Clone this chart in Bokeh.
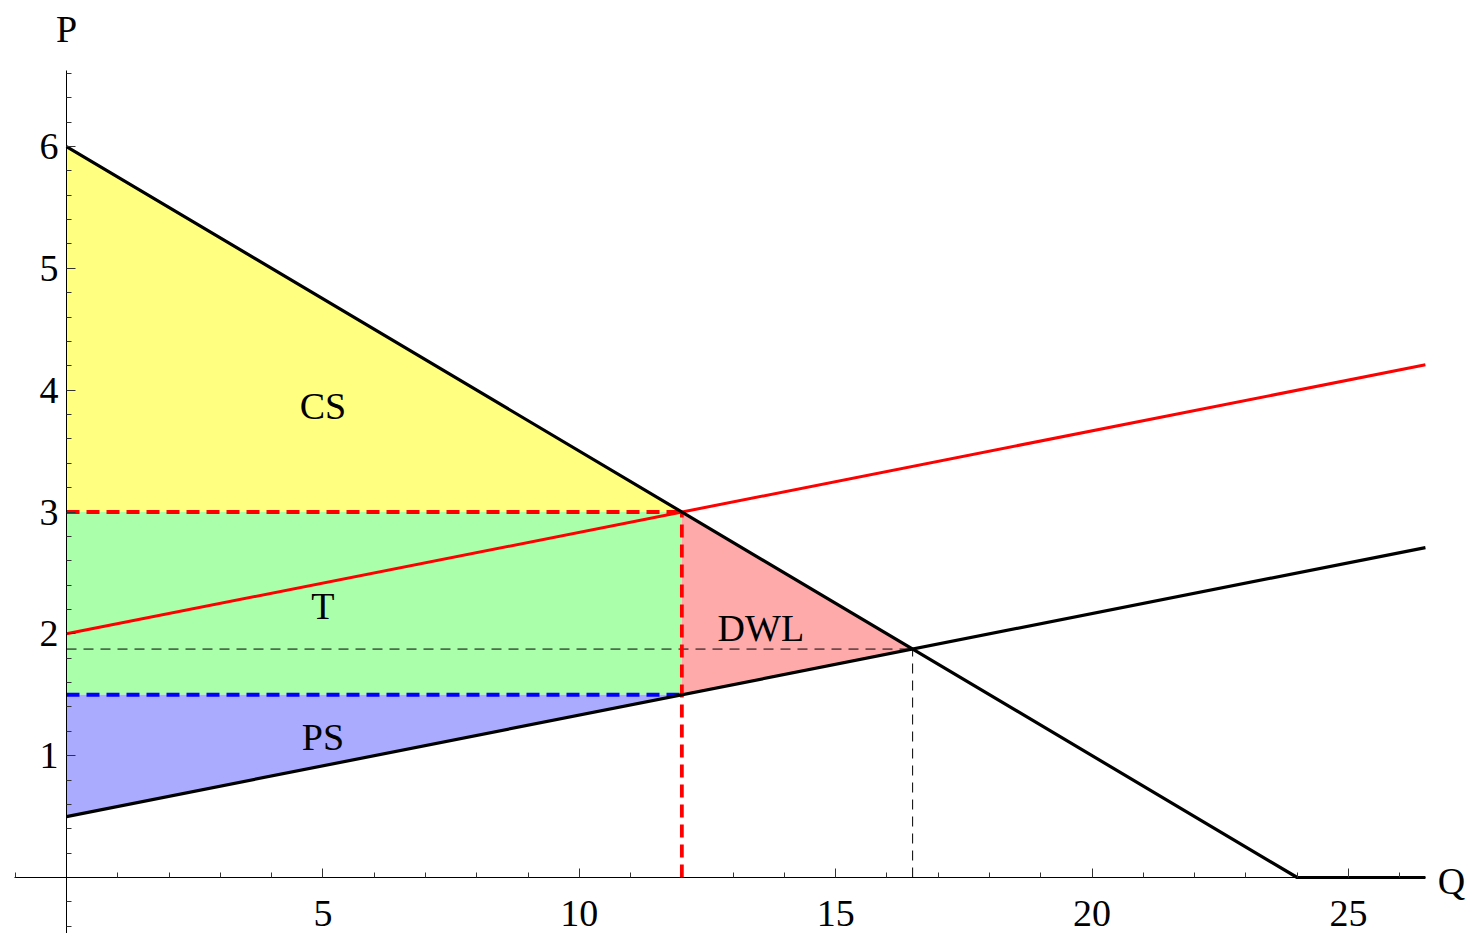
from bokeh.plotting import figure
from bokeh.models import Range1d, FixedTicker, LinearAxis
from bokeh.core.properties import value
from bokeh.embed import file_html
from bokeh.resources import INLINE

# ---- data ----
demand_q = [0, 24, 26.5]
demand_p = [6, 0, 0]
supply_q = [0, 26.5]
supply_p = [0.5, 2.708]
tax_supply_q = [0, 26.5]
tax_supply_p = [2, 4.208]
q_tax = 12
p_buyer = 3
p_seller = 1.5
q_eq = 16.5
p_eq = 1.875
p_demand_max = 6
p_supply_min = 0.5

area_labels = ["CS", "T", "PS", "DWL"]
area_label_q = [5, 5, 5, 13.54]
area_label_p = [3.87, 2.23, 1.15, 2.05]

x_major = [5, 10, 15, 20, 25]
x_minor = [-1] + [i for i in range(1, 27) if i % 5 != 0]
y_major = [1, 2, 3, 4, 5, 6]
y_minor = [round(-0.4 + 0.2 * i, 1) for i in range(36)
           if abs((-0.4 + 0.2 * i) - round(-0.4 + 0.2 * i)) > 1e-6]

FONT = "Liberation Serif"

W, H = 1466, 933
p = figure(width=W, height=H, output_backend="svg", toolbar_location=None,
           x_range=Range1d(-66 / 51.28, (W - 66) / 51.28),
           y_range=Range1d((877 - H) / 121.83, 877 / 121.83),
           min_border=0, x_axis_type=None, y_axis_type=None)
p.outline_line_color = None
p.background_fill_color = "white"
p.border_fill_color = "white"

xa = LinearAxis(fixed_location=0, bounds=(-1.02, 26.5),
                ticker=FixedTicker(ticks=x_major, minor_ticks=x_minor))
ya = LinearAxis(fixed_location=0, bounds=(-0.46, 6.62),
                ticker=FixedTicker(ticks=y_major, minor_ticks=y_minor))
for ax in (xa, ya):
    ax.axis_line_color = "black"
    ax.axis_line_width = 1
    ax.major_tick_in = 9
    ax.major_tick_out = 0
    ax.minor_tick_in = 5
    ax.minor_tick_out = 0
    ax.major_tick_line_color = "#333333"
    ax.minor_tick_line_color = "#333333"
    ax.major_label_text_font = FONT
    ax.major_label_text_font_size = "38px"
    ax.major_label_text_color = "black"
xa.major_label_standoff = 23
ya.major_label_standoff = 8
p.add_layout(xa, "below")
p.add_layout(ya, "left")

# ---- filled areas ----
p.patch([0, q_tax, 0], [p_demand_max, p_buyer, p_buyer], fill_color="#FFFF80", line_color=None)
p.patch([0, q_tax, q_tax, 0], [p_buyer, p_buyer, p_seller, p_seller], fill_color="#AAFFAA", line_color=None)
p.patch([0, q_tax, 0], [p_supply_min, p_seller, p_seller], fill_color="#AAAAFF", line_color=None)
p.patch([q_tax, q_eq, q_tax], [p_buyer, p_eq, p_seller], fill_color="#FFAAAA", line_color=None)

# ---- thin dashed equilibrium guides ----
p.line([0, q_eq], [p_eq, p_eq], line_color="black", line_width=1, line_dash="10 7")
p.line([q_eq, q_eq], [0, p_eq], line_color="black", line_width=1, line_dash="10 7")

# ---- tax dashed lines ----
p.line([0, q_tax], [p_buyer, p_buyer], line_color="red", line_width=3.8, line_dash="13 7")
p.line([q_tax, q_tax], [0, p_buyer], line_color="red", line_width=3.8, line_dash="13 7")
p.line([0, q_tax], [p_seller, p_seller], line_color="blue", line_width=3.8, line_dash="13 7")

# ---- curves ----
p.line(tax_supply_q, tax_supply_p, line_color="red", line_width=3)
p.line(supply_q, supply_p, line_color="black", line_width=3.2)
p.line(demand_q, demand_p, line_color="black", line_width=3.2)

# ---- labels ----
p.text(x=area_label_q, y=area_label_p, text=area_labels, text_font=value(FONT),
       text_font_size="38px", text_align="center", text_baseline="middle", text_color="black")
p.text(x=[0], y=[6.965], text=["P"], text_font=value(FONT), text_font_size="38px",
       text_align="center", text_baseline="middle", text_color="black")
p.text(x=[26.74], y=[-0.03], text=["Q"], text_font=value(FONT), text_font_size="38px",
       text_align="left", text_baseline="middle", text_color="black")

open("out.html", "w").write(file_html(p, INLINE))
